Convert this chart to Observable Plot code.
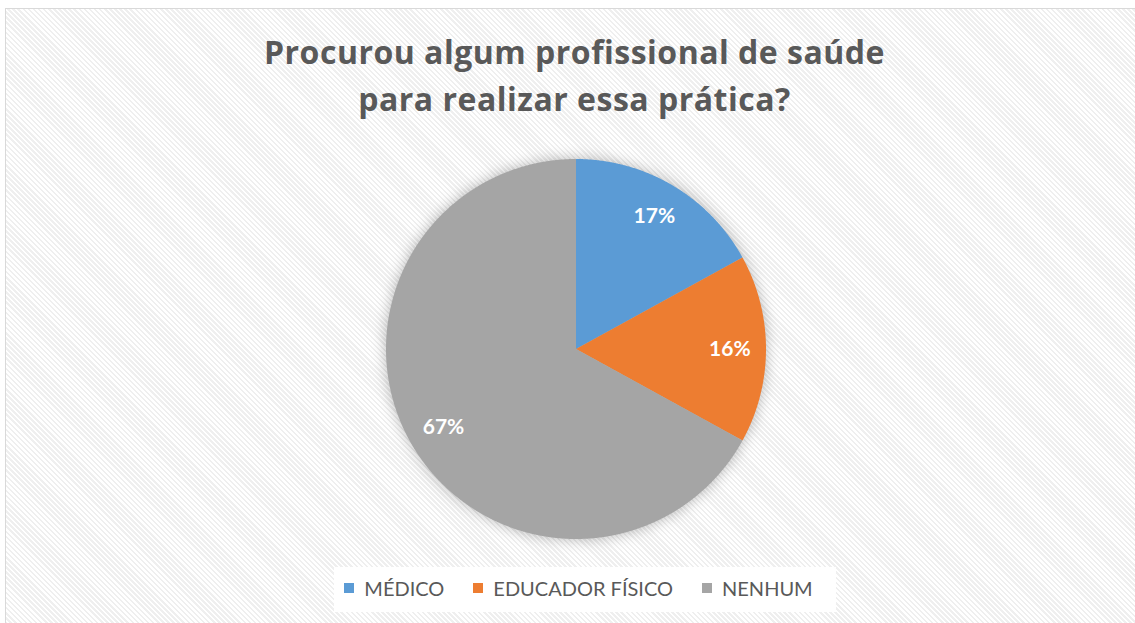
<!DOCTYPE html>
<html>
<head>
<meta charset="utf-8">
<script src="https://cdn.jsdelivr.net/npm/d3@7"></script>
<script src="https://cdn.jsdelivr.net/npm/@observablehq/plot@0.6"></script>
<style>
  html, body { margin: 0; padding: 0; background: #fff; }
  #wrap { position: relative; width: 1135px; height: 623px; overflow: hidden; background: #fff; }
  #frame {
    position: absolute; left: 5px; top: 8px; width: 1140px; height: 630px;
    border: 1.5px solid #d9d9d9; box-sizing: border-box;
    background: repeating-linear-gradient(45deg, #ffffff 0px, #ffffff 1.8px, #efefef 1.8px, #efefef 3.6px);
  }
  #title {
    position: absolute; left: 0; width: 1149px; top: 29px; text-align: center;
    font-family: "Open Sans", Lato, sans-serif; font-weight: bold; font-size: 32px;
    line-height: 46.7px; color: #595959; letter-spacing: 0.5px;
  }
  #chart { position: absolute; left: 0; top: 0; }
  #chart svg g[aria-label="line"] { filter: drop-shadow(0 0 7px rgba(0,0,0,0.28)); }
  #legendbox {
    position: absolute; left: 334px; top: 567px; width: 502px; height: 45px; background: #fff;
  }
  #legend {
    position: absolute; left: 0; width: 1157px; top: 575px; display: flex; justify-content: center; gap: 29px;
    font-family: Lato, "Open Sans", sans-serif; font-size: 20px; color: #595959;
  }
  .item { display: flex; align-items: center; gap: 10px; line-height: 26px; }
  .sw { width: 10px; height: 10px; display: inline-block; }
</style>
</head>
<body>
<div id="wrap">
  <div id="frame"></div>
  <div id="title">Procurou algum profissional de saúde<br>para realizar essa prática?</div>
  <div id="chart"></div>
  <div id="legendbox"></div>
  <div id="legend"></div>
</div>
<script>
const categories = ["MÉDICO", "EDUCADOR FÍSICO", "NENHUM"];
const values = [17, 16, 67];
const labels = ["17%", "16%", "67%"];
const colors = ["#5B9BD5", "#ED7D31", "#A5A5A5"];

const W = 1135, H = 623, CX = 575.5, CY = 348.5, R = 190;

const arcs = d3.pie().sort(null).value(d => d)(values);

// polygon outline of each slice (unit radius), derived from the pie angles
const slicePoints = [];
arcs.forEach((a, i) => {
  slicePoints.push({cat: categories[i], x: 0, y: 0});
  const n = Math.max(2, Math.ceil((a.endAngle - a.startAngle) / 0.004));
  for (let k = 0; k <= n; k++) {
    const t = a.startAngle + (a.endAngle - a.startAngle) * k / n;
    slicePoints.push({cat: categories[i], x: Math.sin(t), y: Math.cos(t)});
  }
  slicePoints.push({cat: categories[i], x: 0, y: 0});
});

const labelPoints = arcs.map((a, i) => {
  const m = (a.startAngle + a.endAngle) / 2;
  return {text: labels[i], x: 0.81 * Math.sin(m), y: 0.81 * Math.cos(m)};
});

const plot = Plot.plot({
  width: W, height: H, margin: 0,
  style: {background: "transparent", overflow: "visible"},
  x: {domain: [-CX / R, (W - CX) / R], axis: null},
  y: {domain: [-(H - CY) / R, CY / R], axis: null},
  color: {domain: categories, range: colors},
  marks: [
    Plot.line(slicePoints, {x: "x", y: "y", z: "cat", fill: "cat", stroke: null, curve: "linear"}),
    Plot.text(labelPoints, {x: "x", y: "y", text: "text", fill: "white", fontSize: 21,
      fontWeight: "bold", fontFamily: "Lato, 'Open Sans', sans-serif"})
  ]
});
document.getElementById("chart").appendChild(plot);

const legend = document.getElementById("legend");
categories.forEach((c, i) => {
  const it = document.createElement("div");
  it.className = "item";
  const sw = document.createElement("span");
  sw.className = "sw";
  sw.style.background = colors[i];
  const tx = document.createElement("span");
  tx.textContent = c;
  it.appendChild(sw); it.appendChild(tx);
  legend.appendChild(it);
});
</script>
</body>
</html>
